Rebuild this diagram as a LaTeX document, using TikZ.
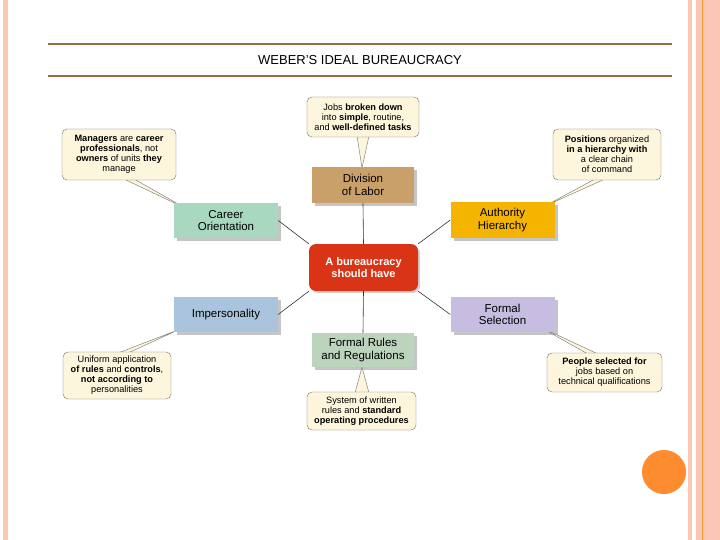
\documentclass[tikz,border=0pt]{standalone}
\usepackage{fontspec}
\setmainfont{Liberation Sans}
\usetikzlibrary{shadows}
\begin{document}
\begin{tikzpicture}[x=1pt,y=-1pt,
  box/.style={draw=none,minimum width=104pt,minimum height=35pt,align=center,font=\fontsize{11.5}{12.5}\selectfont,
    drop shadow={shadow xshift=3pt,shadow yshift=-3pt,fill=black!45}},
  call/.style={draw=black!55,fill=cream,rounded corners=5pt,align=center,font=\fontsize{9.2}{10}\selectfont,inner sep=1pt},
  ptr/.style={draw=black!55,fill=cream},
  link/.style={draw=black!80,line width=0.6pt}]
\definecolor{cream}{HTML}{FDF5DC}
\definecolor{pinkb}{HTML}{F9C7B3}
\definecolor{brownl}{HTML}{9B6B44}
\definecolor{circ}{HTML}{FD8B30}
\useasboundingbox (0,0) rectangle (720,540);
\fill[white] (0,0) rectangle (720,540);
% borders
\fill[pinkb] (3,0) rectangle (8,540);
\fill[pinkb] (688,0) rectangle (692,540);
\fill[pinkb] (696,0) rectangle (720,540);
\draw[color=orange!70!pinkb,line width=0.8pt] (702.5,0) -- (702.5,540);
\fill[circ] (664,472) circle (22);
% title
\draw[brownl,line width=2pt] (48,44) -- (672,44);
\draw[brownl,line width=2pt] (48,76) -- (672,76);
\node[font=\fontsize{13}{14}\selectfont] (title) at (360,60) {WEBER’S IDEAL BUREAUCRACY};
% pointers
\filldraw[ptr] (357,136) -- (362,168) -- (369,136);
\filldraw[ptr] (124,179) -- (187,209) -- (134,179);
\filldraw[ptr] (595,179) -- (543,207) -- (605,179);
\filldraw[ptr] (118,353) -- (178,330) -- (128,353);
\filldraw[ptr] (355,393) -- (362,367) -- (369,393);
\filldraw[ptr] (598,354) -- (538,326) -- (588,354);
% callouts
\node[call,minimum width=112pt,minimum height=40pt] (cjobs) at (363,117) {Jobs \textbf{broken down}\\into \textbf{simple}, routine,\\and \textbf{well-defined tasks}};
\node[call,minimum width=114pt,minimum height=51pt] (cman) at (119,154.5) {\textbf{Managers} are \textbf{career}\\\textbf{professionals}, not\\\textbf{owners} of units \textbf{they}\\manage};
\node[call,minimum width=108pt,minimum height=51pt] (cpos) at (607,154.5) {\textbf{Positions} organized\\\textbf{in a hierarchy with}\\a clear chain\\of command};
\node[call,minimum width=108pt,minimum height=47pt] (cuni) at (117,375.5) {Uniform application\\\textbf{of rules} and \textbf{controls},\\\textbf{not according to}\\personalities};
\node[call,minimum width=109pt,minimum height=38pt] (csys) at (361.5,411) {System of written\\rules and \textbf{standard}\\\textbf{operating procedures}};
\node[call,minimum width=115pt,minimum height=39pt] (cpeo) at (604.5,372.5) {\textbf{People selected for}\\jobs based on\\technical qualifications};
% boxes
\node[box,fill={rgb,255:red,201;green,160;blue,106},minimum width=102pt,minimum height=36pt] (div) at (363,185) {Division\\of Labor};
\node[box,fill={rgb,255:red,168;green,216;blue,192}] (car) at (226,220.5) {Career\\Orientation};
\node[box,fill={rgb,255:red,245;green,180;blue,0}] (auth) at (502.5,220) {Authority\\Hierarchy};
\node[box,fill={rgb,255:red,169;green,196;blue,220}] (imp) at (226,314.5) {Impersonality};
\node[box,fill={rgb,255:red,199;green,189;blue,224}] (sel) at (502.5,314.5) {Formal\\Selection};
\node[box,fill={rgb,255:red,188;green,211;blue,188},minimum width=102pt,minimum height=34pt] (rul) at (363,350) {Formal Rules\\and Regulations};
\node[fill={rgb,255:red,217;green,52;blue,22},rounded corners=7pt,minimum width=109pt,minimum height=47pt,align=center,text=white,font=\bfseries\fontsize{11}{12.5}\selectfont,drop shadow={shadow xshift=2pt,shadow yshift=-2pt,fill=black!35}] (ctr) at (363.5,267.5) {A bureaucracy\\should have};
% links
\draw[link] (div.south) -- (ctr.north);
\draw[link] (rul.north) -- (ctr.south);
\draw[link] (car.east) -- (ctr.north west);
\draw[link] (auth.west) -- (ctr.north east);
\draw[link] (imp.east) -- (ctr.south west);
\draw[link] (sel.west) -- (ctr.south east);
\end{tikzpicture}
\end{document}
